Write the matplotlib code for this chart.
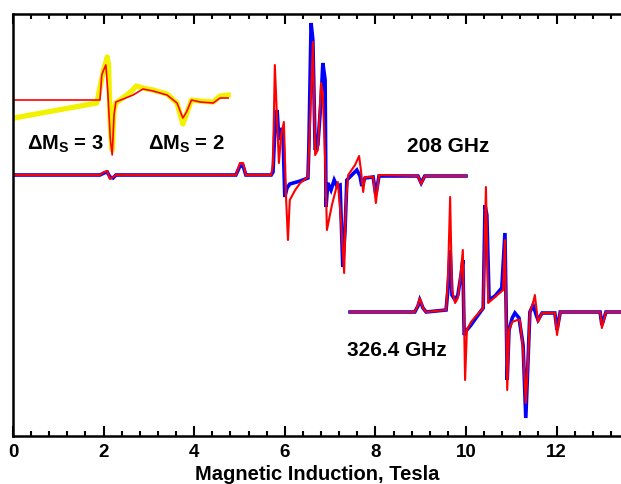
import matplotlib
matplotlib.use("Agg")
import matplotlib.pyplot as plt
from matplotlib.ticker import MultipleLocator

plt.rcParams['font.family'] = ['Liberation Sans', 'DejaVu Sans']
plt.rcParams['font.weight'] = 'bold'
plt.rcParams['mathtext.fontset'] = 'custom'
plt.rcParams['mathtext.rm'] = 'Liberation Sans:bold'
plt.rcParams['mathtext.bf'] = 'Liberation Sans:bold'

# 208 GHz - experiment (blue) and simulation (red), signal relative to baseline
b208_exp = [0, 1.92, 2.01, 2.08, 2.14, 2.21, 2.27, 4.92, 5.01, 5.08, 5.14, 5.70, 5.74, 5.78, 5.83, 5.87,
            5.92, 5.96, 6.00, 6.05, 6.11, 6.34, 6.51, 6.53, 6.58, 6.62, 6.67, 6.73, 6.80, 6.84, 6.89,
            6.91, 6.95, 7.02, 7.09, 7.15, 7.22, 7.26, 7.28, 7.33, 7.37, 7.48, 7.59, 7.66, 7.70, 7.77,
            7.95, 8.01, 8.08, 8.94, 9.01, 9.09, 10.00]
s208_exp = [0, 0, 2, 3, -2, -3, 0, 0, 9, 9, 0, 0, 3, 45, 65, 35,
            47, 40, -22, -13, -9, -6, -3, 25, 152, 135, 25, 30, 75, 112, 95,
            -32, -8, -15, -5, -11, -10, -65, -92, -55, -5, 0, 5, -1, -11, -3,
            -2, -20, -1, -1, -8, -1, -1]

b208_sim = [0, 1.92, 2.01, 2.08, 2.14, 2.21, 2.27, 4.92, 5.01, 5.08, 5.14, 5.70, 5.74, 5.78, 5.83, 5.87,
            5.92, 5.98, 6.03, 6.07, 6.11, 6.23, 6.34, 6.51, 6.56, 6.62, 6.67, 6.73, 6.80, 6.84, 6.89,
            6.93, 7.04, 7.17, 7.24, 7.31, 7.35, 7.40, 7.55, 7.64, 7.68, 7.73, 7.77, 7.95, 8.01, 8.08,
            8.94, 9.01, 9.09, 10.00]
s208_sim = [0, 0, 3, 4, -4, -2, 0, 0, 12, 12, 0, 0, 10, 110, 55, 12,
            40, 53, -25, -65, -25, -15, -8, -2, 55, 133, 20, 25, 92, 80, 15,
            -55, -30, -7, -45, -98, -25, 0, 10, 19, 5, -17, -2, -2, -28, 0,
            -1, -9, -1, -1]

# 326.4 GHz
b326_exp = [7.44, 8.87, 8.94, 8.98, 9.05, 9.12, 9.56, 9.60, 9.65, 9.69, 9.76, 9.82, 9.89, 9.93, 9.96,
            10.02, 10.11, 10.22, 10.38, 10.42, 10.46, 10.51, 10.64, 10.79, 10.86, 10.91, 10.95, 11.02,
            11.08, 11.17, 11.26, 11.32, 11.37, 11.41, 11.48, 11.55, 11.59, 11.68, 11.96, 12.01, 12.08,
            12.96, 13.00, 13.09, 13.42]
s326_exp = [0, 0, 6, 12, 4, 0, 2, 22, 62, 17, 12, 17, 37, 52, -23,
            -18, -13, -6, 4, 107, 97, 12, 16, 24, 79, -68, -18, -6,
            -1, -6, -33, -106, -48, 0, 7, -3, -8, -1, -1, -18, 0,
            0, -13, 0, 0]

b326_sim = [7.44, 8.87, 8.94, 8.98, 9.05, 9.12, 9.56, 9.60, 9.65, 9.69, 9.76, 9.82, 9.89, 9.93, 9.98,
            10.02, 10.11, 10.22, 10.38, 10.44, 10.49, 10.64, 10.82, 10.86, 10.91, 10.95, 11.02, 11.13,
            11.19, 11.26, 11.32, 11.37, 11.41, 11.48, 11.52, 11.59, 11.68, 11.96, 12.01, 12.08,
            12.96, 13.00, 13.09, 13.42]
s326_sim = [0, 0, 7, 14, 4, 0, 2, 32, 115, 22, 9, 14, 42, 62, -68,
            -18, -10, -4, 4, 125, 9, 15, 22, 72, -78, -18, -10, -8,
            -8, -38, -91, -48, 0, 9, 17, -10, -1, -1, -23, 0,
            0, -16, 0, 0]

# half-field region (inset): experiment (yellow) and simulation (red)
bhf_exp = [0.02, 1.85, 2.00, 2.08, 2.11, 2.15, 2.19, 2.23, 2.27, 2.60, 2.72, 2.87, 3.09, 3.40,
           3.62, 3.75, 3.83, 3.94, 4.13, 4.42, 4.57, 4.75]
shf_exp = [-18, -3, 30, 43, 35, -30, -50, -10, -3, 8, 14, 12, 10, 6,
           -3, -24, -14, 0, -1, -2, 4, 5]
bhf_sim = [0.02, 1.92, 1.96, 2.00, 2.05, 2.09, 2.15, 2.19, 2.23, 2.27, 2.65, 2.87, 3.09, 3.40,
           3.62, 3.75, 3.83, 3.94, 4.13, 4.42, 4.57, 4.75]
shf_sim = [0, 0, 25, 30, 35, 10, -40, -55, -15, -2, 5, 11, 9, 5,
           -3, -18, -12, 0, -2, -3, 2, 2]

off208 = 261
off326 = 124
offhf = 336

fig = plt.figure(figsize=(6.21, 4.84), dpi=100)
ax = fig.add_axes([13 / 621, 48 / 484, 608 / 621, 422 / 484])

ax.plot(b208_exp, [v + off208 for v in s208_exp], color='blue', lw=2.6, solid_joinstyle='miter')
ax.plot(b208_sim, [v + off208 for v in s208_sim], color='red', lw=1.5)
ax.plot(b326_exp, [v + off326 for v in s326_exp], color='blue', lw=2.6, solid_joinstyle='miter')
ax.plot(b326_sim, [v + off326 for v in s326_sim], color='red', lw=1.5)
ax.plot(bhf_exp, [v + offhf for v in shf_exp], color='#f2f200', lw=3.8)
ax.plot(bhf_sim, [v + offhf for v in shf_sim], color='red', lw=1.2)

ax.text(0.31, 286, r'$\mathbf{\Delta M_S}$ = 3', fontsize=14.5, fontweight='bold', va='baseline')
ax.text(2.98, 286, r'$\mathbf{\Delta M_S}$ = 2', fontsize=14.5, fontweight='bold', va='baseline')
ax.text(8.70, 289, '208 GHz', fontsize=15, fontweight='bold', va='center')
ax.text(7.37, 86, '326.4 GHz', fontsize=15, fontweight='bold', va='center')

ax.set_xlim(0, 608 / 45.3)
ax.set_ylim(0, 422)
ax.set_yticks([])
ax.xaxis.set_major_locator(MultipleLocator(2))
ax.xaxis.set_minor_locator(MultipleLocator(0.4))
ax.tick_params(axis='x', which='both', direction='in', top=True, width=1.5, pad=6, labelsize=13.5)
ax.tick_params(axis='x', which='major', length=7.5)
ax.tick_params(axis='x', which='minor', length=3.8)
for lab in ax.get_xticklabels():
    lab.set_fontweight('bold')
ax.spines['right'].set_visible(False)
for s in ['left', 'bottom', 'top']:
    ax.spines[s].set_linewidth(1.8)
ax.set_xlabel('Magnetic Induction, Tesla', fontsize=14.5, fontweight='bold', labelpad=3)

fig.savefig('out.png', dpi=100)
